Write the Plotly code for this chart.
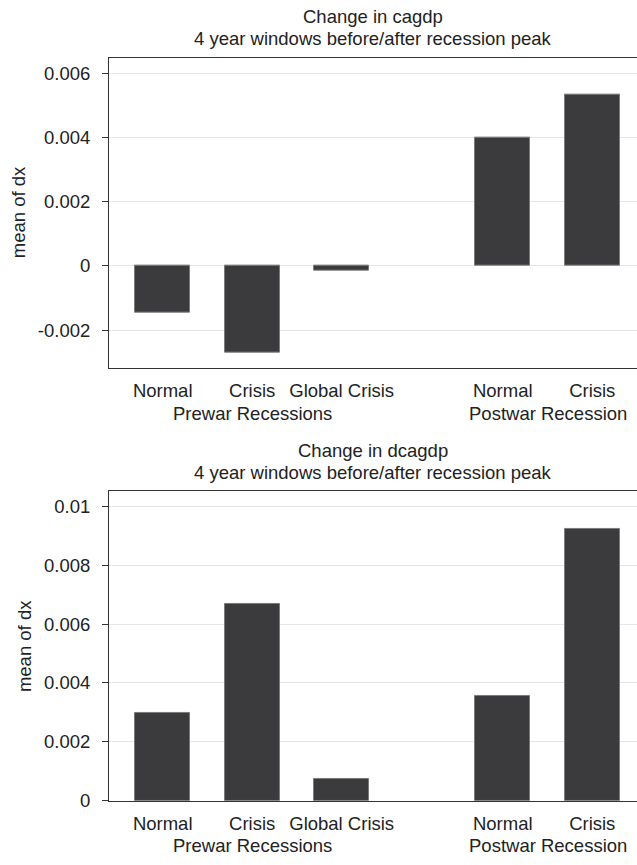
import plotly.graph_objects as go

# ---- data ----
categories = ["Normal", "Crisis", "Global Crisis", "Normal", "Crisis"]
cat_positions = [0, 1, 2, 3.8, 4.8]
groups = ["Prewar Recessions", "Postwar Recession"]
group_positions = [1, 4.3]

cagdp_values = [-0.00145, -0.00269, -0.00016, 0.00398, 0.00532]
dcagdp_values = [0.00298, 0.00670, 0.00073, 0.00357, 0.00924]

top_tickvals = [-0.002, 0, 0.002, 0.004, 0.006]
top_ticktext = ["-0.002", "0", "0.002", "0.004", "0.006"]
bot_tickvals = [0, 0.002, 0.004, 0.006, 0.008, 0.01]
bot_ticktext = ["0", "0.002", "0.004", "0.006", "0.008", "0.01"]

titles = [("Change in cagdp", "4 year windows before/after recession peak"),
          ("Change in dcagdp", "4 year windows before/after recession peak")]
ytitle = "mean of dx"

# ---- layout constants ----
W, H = 637, 865
FONT = "Liberation Sans, Arial, sans-serif"
FS = 18.5
TXT = "#222222"
BAR = "#3b3b3d"
AX = "#333333"
GRID = "#e6e6e6"

def py(px):
    return 1 - px / H

def px_(x):
    return x / W

fig = go.Figure()
fig.add_trace(go.Bar(x=cat_positions, y=cagdp_values, width=0.615,
                     marker=dict(color=BAR, line=dict(color="#7a7a7a", width=1)),
                     xaxis="x", yaxis="y", showlegend=False))
fig.add_trace(go.Bar(x=cat_positions, y=dcagdp_values, width=0.615,
                     marker=dict(color=BAR, line=dict(color="#7a7a7a", width=1)),
                     xaxis="x2", yaxis="y2", showlegend=False))

xdom = [px_(109), 1]
xcommon = dict(range=[-0.6, 5.3], tickvals=cat_positions, ticktext=categories,
               showline=True, linecolor=AX, linewidth=1, mirror=True,
               ticks="", showgrid=False, zeroline=False,
               tickfont=dict(family=FONT, size=FS, color=TXT),
               ticklabelstandoff=6, fixedrange=True)
ycommon = dict(showline=True, linecolor=AX, linewidth=1, ticks="outside",
               ticklen=6, tickcolor=AX, tickwidth=1, showgrid=True,
               gridcolor=GRID, gridwidth=1, zeroline=False,
               tickfont=dict(family=FONT, size=FS, color=TXT),
               ticklabelstandoff=8, fixedrange=True)

fig.update_layout(
    width=W, height=H, margin=dict(l=0, r=0, t=0, b=0),
    paper_bgcolor="white", plot_bgcolor="white",
    font=dict(family=FONT, size=FS, color=TXT),
    bargap=0,
    xaxis=dict(domain=xdom, anchor="y", **xcommon),
    yaxis=dict(domain=[py(372), py(58.3)], anchor="x",
               range=[-0.003169, 0.006483],
               tickvals=top_tickvals, ticktext=top_ticktext, **ycommon),
    xaxis2=dict(domain=xdom, anchor="y2", **xcommon),
    yaxis2=dict(domain=[py(810), py(496.7)], anchor="x2",
                range=[0, 0.010525],
                tickvals=bot_tickvals, ticktext=bot_ticktext, **ycommon),
)

ann = []
# titles
for (t1, t2), (b1, b2) in zip(titles, [(23.3, 45.7), (461.7, 484)]):
    ann.append(dict(text=t1, x=px_(373), y=py(b1 - 6.4), xref="paper", yref="paper",
                    xanchor="center", yanchor="middle", showarrow=False,
                    font=dict(family=FONT, size=FS, color=TXT)))
    ann.append(dict(text=t2, x=px_(373), y=py(b2 - 6.4), xref="paper", yref="paper",
                    xanchor="center", yanchor="middle", showarrow=False,
                    font=dict(family=FONT, size=FS, color=TXT)))
# y-axis titles
for xc, (top, bot) in zip([18.6, 24.3], [(58.3, 372), (496.7, 810)]):
    ann.append(dict(text=ytitle, x=px_(xc), y=py((top + bot) / 2), xref="paper", yref="paper",
                    xanchor="center", yanchor="middle", textangle=-90, showarrow=False,
                    font=dict(family=FONT, size=FS, color=TXT)))
# group labels
for xr, base in [("x", 425), ("x2", 862)]:
    for g, gp in zip(groups, group_positions):
        ann.append(dict(text=g, x=gp, y=py(base - 6.4), xref=xr, yref="paper",
                        xanchor="center", yanchor="middle", showarrow=False,
                        font=dict(family=FONT, size=FS, color=TXT)))
fig.update_layout(annotations=ann)

fig.write_html("out.html")
